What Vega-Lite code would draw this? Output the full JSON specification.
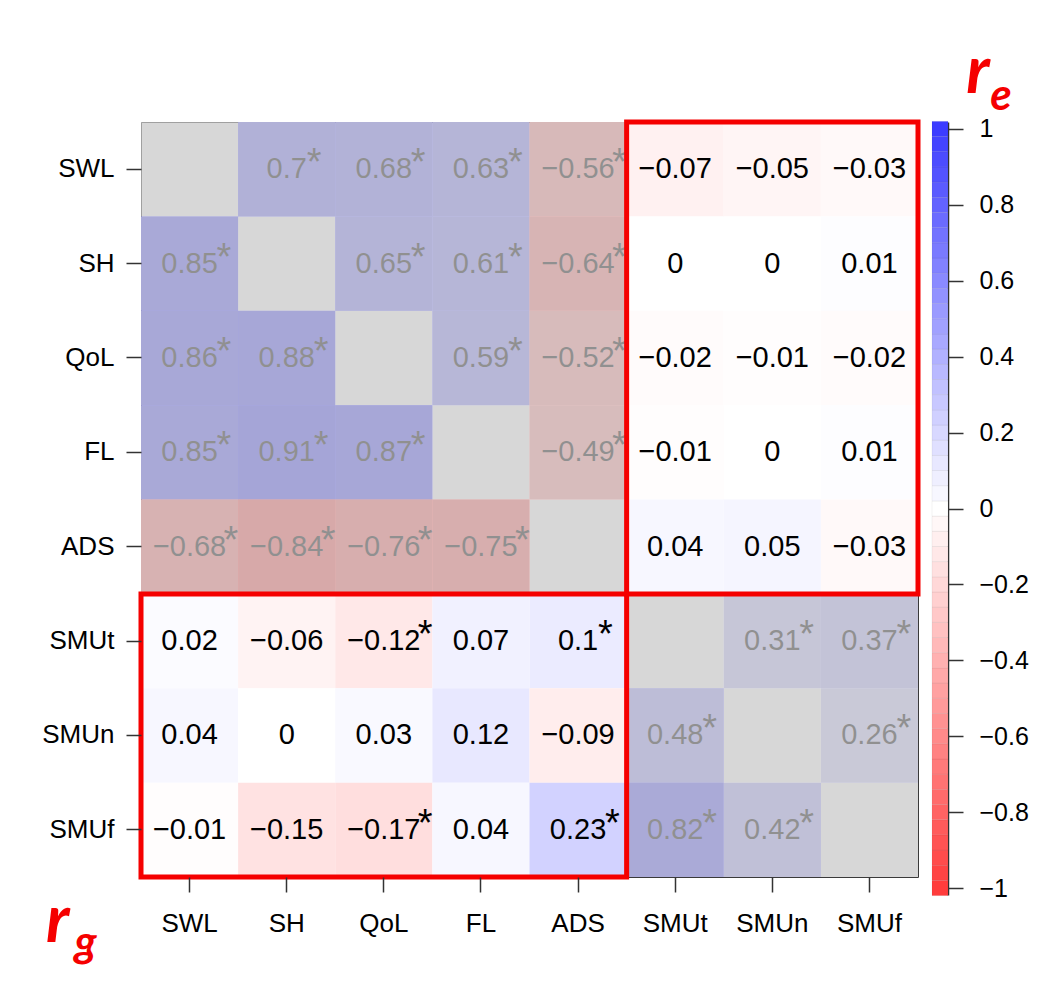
{
  "$schema": "https://vega.github.io/schema/vega-lite/v6.json",
  "background": "white",
  "padding": {"left": 41, "top": 39, "right": 5, "bottom": 5},
  "datasets": {
    "cells": [
      {"row": "SWL", "col": "SWL", "r": null, "lab": "", "sig": false, "grp": "w"},
      {"row": "SWL", "col": "SH", "r": 0.7, "lab": "0.7", "sig": true, "grp": "w"},
      {"row": "SWL", "col": "QoL", "r": 0.68, "lab": "0.68", "sig": true, "grp": "w"},
      {"row": "SWL", "col": "FL", "r": 0.63, "lab": "0.63", "sig": true, "grp": "w"},
      {"row": "SWL", "col": "ADS", "r": -0.56, "lab": "−0.56", "sig": true, "grp": "w"},
      {"row": "SWL", "col": "SMUt", "r": -0.07, "lab": "−0.07", "sig": false, "grp": "b"},
      {"row": "SWL", "col": "SMUn", "r": -0.05, "lab": "−0.05", "sig": false, "grp": "b"},
      {"row": "SWL", "col": "SMUf", "r": -0.03, "lab": "−0.03", "sig": false, "grp": "b"},
      {"row": "SH", "col": "SWL", "r": 0.85, "lab": "0.85", "sig": true, "grp": "w"},
      {"row": "SH", "col": "SH", "r": null, "lab": "", "sig": false, "grp": "w"},
      {"row": "SH", "col": "QoL", "r": 0.65, "lab": "0.65", "sig": true, "grp": "w"},
      {"row": "SH", "col": "FL", "r": 0.61, "lab": "0.61", "sig": true, "grp": "w"},
      {"row": "SH", "col": "ADS", "r": -0.64, "lab": "−0.64", "sig": true, "grp": "w"},
      {"row": "SH", "col": "SMUt", "r": 0, "lab": "0", "sig": false, "grp": "b"},
      {"row": "SH", "col": "SMUn", "r": 0, "lab": "0", "sig": false, "grp": "b"},
      {"row": "SH", "col": "SMUf", "r": 0.01, "lab": "0.01", "sig": false, "grp": "b"},
      {"row": "QoL", "col": "SWL", "r": 0.86, "lab": "0.86", "sig": true, "grp": "w"},
      {"row": "QoL", "col": "SH", "r": 0.88, "lab": "0.88", "sig": true, "grp": "w"},
      {"row": "QoL", "col": "QoL", "r": null, "lab": "", "sig": false, "grp": "w"},
      {"row": "QoL", "col": "FL", "r": 0.59, "lab": "0.59", "sig": true, "grp": "w"},
      {"row": "QoL", "col": "ADS", "r": -0.52, "lab": "−0.52", "sig": true, "grp": "w"},
      {"row": "QoL", "col": "SMUt", "r": -0.02, "lab": "−0.02", "sig": false, "grp": "b"},
      {"row": "QoL", "col": "SMUn", "r": -0.01, "lab": "−0.01", "sig": false, "grp": "b"},
      {"row": "QoL", "col": "SMUf", "r": -0.02, "lab": "−0.02", "sig": false, "grp": "b"},
      {"row": "FL", "col": "SWL", "r": 0.85, "lab": "0.85", "sig": true, "grp": "w"},
      {"row": "FL", "col": "SH", "r": 0.91, "lab": "0.91", "sig": true, "grp": "w"},
      {"row": "FL", "col": "QoL", "r": 0.87, "lab": "0.87", "sig": true, "grp": "w"},
      {"row": "FL", "col": "FL", "r": null, "lab": "", "sig": false, "grp": "w"},
      {"row": "FL", "col": "ADS", "r": -0.49, "lab": "−0.49", "sig": true, "grp": "w"},
      {"row": "FL", "col": "SMUt", "r": -0.01, "lab": "−0.01", "sig": false, "grp": "b"},
      {"row": "FL", "col": "SMUn", "r": 0, "lab": "0", "sig": false, "grp": "b"},
      {"row": "FL", "col": "SMUf", "r": 0.01, "lab": "0.01", "sig": false, "grp": "b"},
      {"row": "ADS", "col": "SWL", "r": -0.68, "lab": "−0.68", "sig": true, "grp": "w"},
      {"row": "ADS", "col": "SH", "r": -0.84, "lab": "−0.84", "sig": true, "grp": "w"},
      {"row": "ADS", "col": "QoL", "r": -0.76, "lab": "−0.76", "sig": true, "grp": "w"},
      {"row": "ADS", "col": "FL", "r": -0.75, "lab": "−0.75", "sig": true, "grp": "w"},
      {"row": "ADS", "col": "ADS", "r": null, "lab": "", "sig": false, "grp": "w"},
      {"row": "ADS", "col": "SMUt", "r": 0.04, "lab": "0.04", "sig": false, "grp": "b"},
      {"row": "ADS", "col": "SMUn", "r": 0.05, "lab": "0.05", "sig": false, "grp": "b"},
      {"row": "ADS", "col": "SMUf", "r": -0.03, "lab": "−0.03", "sig": false, "grp": "b"},
      {"row": "SMUt", "col": "SWL", "r": 0.02, "lab": "0.02", "sig": false, "grp": "b"},
      {"row": "SMUt", "col": "SH", "r": -0.06, "lab": "−0.06", "sig": false, "grp": "b"},
      {"row": "SMUt", "col": "QoL", "r": -0.12, "lab": "−0.12", "sig": true, "grp": "b"},
      {"row": "SMUt", "col": "FL", "r": 0.07, "lab": "0.07", "sig": false, "grp": "b"},
      {"row": "SMUt", "col": "ADS", "r": 0.1, "lab": "0.1", "sig": true, "grp": "b"},
      {"row": "SMUt", "col": "SMUt", "r": null, "lab": "", "sig": false, "grp": "w"},
      {"row": "SMUt", "col": "SMUn", "r": 0.31, "lab": "0.31", "sig": true, "grp": "w"},
      {"row": "SMUt", "col": "SMUf", "r": 0.37, "lab": "0.37", "sig": true, "grp": "w"},
      {"row": "SMUn", "col": "SWL", "r": 0.04, "lab": "0.04", "sig": false, "grp": "b"},
      {"row": "SMUn", "col": "SH", "r": 0, "lab": "0", "sig": false, "grp": "b"},
      {"row": "SMUn", "col": "QoL", "r": 0.03, "lab": "0.03", "sig": false, "grp": "b"},
      {"row": "SMUn", "col": "FL", "r": 0.12, "lab": "0.12", "sig": false, "grp": "b"},
      {"row": "SMUn", "col": "ADS", "r": -0.09, "lab": "−0.09", "sig": false, "grp": "b"},
      {"row": "SMUn", "col": "SMUt", "r": 0.48, "lab": "0.48", "sig": true, "grp": "w"},
      {"row": "SMUn", "col": "SMUn", "r": null, "lab": "", "sig": false, "grp": "w"},
      {"row": "SMUn", "col": "SMUf", "r": 0.26, "lab": "0.26", "sig": true, "grp": "w"},
      {"row": "SMUf", "col": "SWL", "r": -0.01, "lab": "−0.01", "sig": false, "grp": "b"},
      {"row": "SMUf", "col": "SH", "r": -0.15, "lab": "−0.15", "sig": false, "grp": "b"},
      {"row": "SMUf", "col": "QoL", "r": -0.17, "lab": "−0.17", "sig": true, "grp": "b"},
      {"row": "SMUf", "col": "FL", "r": 0.04, "lab": "0.04", "sig": false, "grp": "b"},
      {"row": "SMUf", "col": "ADS", "r": 0.23, "lab": "0.23", "sig": true, "grp": "b"},
      {"row": "SMUf", "col": "SMUt", "r": 0.82, "lab": "0.82", "sig": true, "grp": "w"},
      {"row": "SMUf", "col": "SMUn", "r": 0.42, "lab": "0.42", "sig": true, "grp": "w"},
      {"row": "SMUf", "col": "SMUf", "r": null, "lab": "", "sig": false, "grp": "w"}
    ],
    "boxes": [
      {"x0": "SMUt", "x1": "SMUf", "y0": "SWL", "y1": "ADS"},
      {"x0": "SWL", "x1": "ADS", "y0": "SMUt", "y1": "SMUf"}
    ],
    "colorbar": [
      {"v": -1.0, "lo": -1.02, "hi": -0.98},
      {"v": -0.96, "lo": -0.98, "hi": -0.94},
      {"v": -0.92, "lo": -0.94, "hi": -0.90},
      {"v": -0.88, "lo": -0.90, "hi": -0.86},
      {"v": -0.84, "lo": -0.86, "hi": -0.82},
      {"v": -0.80, "lo": -0.82, "hi": -0.78},
      {"v": -0.76, "lo": -0.78, "hi": -0.74},
      {"v": -0.72, "lo": -0.74, "hi": -0.70},
      {"v": -0.68, "lo": -0.70, "hi": -0.66},
      {"v": -0.64, "lo": -0.66, "hi": -0.62},
      {"v": -0.60, "lo": -0.62, "hi": -0.58},
      {"v": -0.56, "lo": -0.58, "hi": -0.54},
      {"v": -0.52, "lo": -0.54, "hi": -0.50},
      {"v": -0.48, "lo": -0.50, "hi": -0.46},
      {"v": -0.44, "lo": -0.46, "hi": -0.42},
      {"v": -0.40, "lo": -0.42, "hi": -0.38},
      {"v": -0.36, "lo": -0.38, "hi": -0.34},
      {"v": -0.32, "lo": -0.34, "hi": -0.30},
      {"v": -0.28, "lo": -0.30, "hi": -0.26},
      {"v": -0.24, "lo": -0.26, "hi": -0.22},
      {"v": -0.20, "lo": -0.22, "hi": -0.18},
      {"v": -0.16, "lo": -0.18, "hi": -0.14},
      {"v": -0.12, "lo": -0.14, "hi": -0.10},
      {"v": -0.08, "lo": -0.10, "hi": -0.06},
      {"v": -0.04, "lo": -0.06, "hi": -0.02},
      {"v": 0.0, "lo": -0.02, "hi": 0.02},
      {"v": 0.04, "lo": 0.02, "hi": 0.06},
      {"v": 0.08, "lo": 0.06, "hi": 0.10},
      {"v": 0.12, "lo": 0.10, "hi": 0.14},
      {"v": 0.16, "lo": 0.14, "hi": 0.18},
      {"v": 0.20, "lo": 0.18, "hi": 0.22},
      {"v": 0.24, "lo": 0.22, "hi": 0.26},
      {"v": 0.28, "lo": 0.26, "hi": 0.30},
      {"v": 0.32, "lo": 0.30, "hi": 0.34},
      {"v": 0.36, "lo": 0.34, "hi": 0.38},
      {"v": 0.40, "lo": 0.38, "hi": 0.42},
      {"v": 0.44, "lo": 0.42, "hi": 0.46},
      {"v": 0.48, "lo": 0.46, "hi": 0.50},
      {"v": 0.52, "lo": 0.50, "hi": 0.54},
      {"v": 0.56, "lo": 0.54, "hi": 0.58},
      {"v": 0.60, "lo": 0.58, "hi": 0.62},
      {"v": 0.64, "lo": 0.62, "hi": 0.66},
      {"v": 0.68, "lo": 0.66, "hi": 0.70},
      {"v": 0.72, "lo": 0.70, "hi": 0.74},
      {"v": 0.76, "lo": 0.74, "hi": 0.78},
      {"v": 0.80, "lo": 0.78, "hi": 0.82},
      {"v": 0.84, "lo": 0.82, "hi": 0.86},
      {"v": 0.88, "lo": 0.86, "hi": 0.90},
      {"v": 0.92, "lo": 0.90, "hi": 0.94},
      {"v": 0.96, "lo": 0.94, "hi": 0.98},
      {"v": 1.0, "lo": 0.98, "hi": 1.02}
    ],
    "rg": [{"main": "r", "sub": "g"}],
    "re": [{"main": "r", "sub": "e"}]
  },
  "spacing": 10,
  "hconcat": [
    {
      "width": 777,
      "height": 755,
      "layer": [
        {
          "data": {"name": "cells"},
          "transform": [{"filter": "datum.r != null"}],
          "mark": {"type": "rect"},
          "encoding": {
            "x": {
              "field": "col", "type": "nominal", "title": null,
              "scale": {"domain": ["SWL", "SH", "QoL", "FL", "ADS", "SMUt", "SMUn", "SMUf"], "paddingInner": 0, "paddingOuter": 0},
              "axis": {"orient": "bottom", "labelAngle": 0, "labelPadding": 18, "tickSize": 15}
            },
            "y": {
              "field": "row", "type": "nominal", "title": null,
              "scale": {"domain": ["SWL", "SH", "QoL", "FL", "ADS", "SMUt", "SMUn", "SMUf"], "paddingInner": 0, "paddingOuter": 0},
              "axis": {"orient": "left", "labelPadding": 12, "tickSize": 15}
            },
            "color": {
              "field": "r", "type": "quantitative", "legend": null,
              "scale": {"domain": [-1, 0, 1], "range": ["#ff3c3c", "#ffffff", "#3c3cff"], "interpolate": "rgb"}
            }
          }
        },
        {
          "data": {"name": "cells"},
          "transform": [{"filter": "datum.lab != ''"}],
          "mark": {"type": "text", "font": "Liberation Sans", "fontSize": 29, "color": "#000000"},
          "encoding": {
            "x": {"field": "col", "type": "nominal", "title": null},
            "y": {"field": "row", "type": "nominal", "title": null},
            "text": {"field": "lab"}
          }
        },
        {
          "data": {"name": "cells"},
          "transform": [{"filter": "datum.sig && length(datum.lab) == 3"}],
          "mark": {"type": "text", "text": "*", "font": "Liberation Sans", "fontSize": 38, "align": "left", "baseline": "alphabetic", "dx": 20, "dy": 6, "color": "#000000"},
          "encoding": {
            "x": {"field": "col", "type": "nominal", "title": null},
            "y": {"field": "row", "type": "nominal", "title": null}
          }
        },
        {
          "data": {"name": "cells"},
          "transform": [{"filter": "datum.sig && length(datum.lab) == 4"}],
          "mark": {"type": "text", "text": "*", "font": "Liberation Sans", "fontSize": 38, "align": "left", "baseline": "alphabetic", "dx": 27, "dy": 6, "color": "#000000"},
          "encoding": {
            "x": {"field": "col", "type": "nominal", "title": null},
            "y": {"field": "row", "type": "nominal", "title": null}
          }
        },
        {
          "data": {"name": "cells"},
          "transform": [{"filter": "datum.sig && length(datum.lab) == 5"}],
          "mark": {"type": "text", "text": "*", "font": "Liberation Sans", "fontSize": 38, "align": "left", "baseline": "alphabetic", "dx": 34, "dy": 6, "color": "#000000"},
          "encoding": {
            "x": {"field": "col", "type": "nominal", "title": null},
            "y": {"field": "row", "type": "nominal", "title": null}
          }
        },
        {
          "data": {"name": "cells"},
          "transform": [{"filter": "datum.grp == 'w'"}],
          "mark": {"type": "rect", "fill": "#c8c8c8", "opacity": 0.72},
          "encoding": {
            "x": {"field": "col", "type": "nominal", "title": null},
            "y": {"field": "row", "type": "nominal", "title": null}
          }
        },
        {
          "data": {"name": "boxes"},
          "mark": {"type": "rect", "fill": null, "stroke": "#f50000", "strokeWidth": 5},
          "encoding": {
            "x": {"field": "x0", "type": "nominal", "title": null, "bandPosition": 0},
            "x2": {"field": "x1", "bandPosition": 1},
            "y": {"field": "y0", "type": "nominal", "title": null, "bandPosition": 0},
            "y2": {"field": "y1", "bandPosition": 1}
          }
        },
        {
          "data": {"name": "rg"},
          "mark": {"type": "text", "font": "Lato", "fontWeight": "bold", "fontStyle": "italic", "fontSize": 66, "color": "#f50000", "align": "center", "baseline": "alphabetic", "dx": -132, "dy": 112},
          "encoding": {
            "x": {"datum": "SWL", "type": "nominal"},
            "y": {"datum": "SMUf", "type": "nominal"},
            "text": {"field": "main"}
          }
        },
        {
          "data": {"name": "rg"},
          "mark": {"type": "text", "font": "Lato", "fontWeight": "bold", "fontStyle": "italic", "fontSize": 44, "color": "#f50000", "align": "center", "baseline": "alphabetic", "dx": -104, "dy": 127},
          "encoding": {
            "x": {"datum": "SWL", "type": "nominal"},
            "y": {"datum": "SMUf", "type": "nominal"},
            "text": {"field": "sub"}
          }
        }
      ]
    },
    {
      "width": 16,
      "height": 773,
      "view": {"stroke": null},
      "layer": [
        {
          "data": {"name": "colorbar"},
          "mark": {"type": "rect", "stroke": "#000000", "strokeOpacity": 0.05, "strokeWidth": 1},
          "encoding": {
            "x": {"value": 0},
            "x2": {"value": "width"},
            "y": {
              "field": "lo", "type": "quantitative", "title": null,
              "scale": {"domain": [-1.0184, 1.0184], "nice": false, "zero": false},
              "axis": {"orient": "right", "values": [1, 0.8, 0.6, 0.4, 0.2, 0, -0.2, -0.4, -0.6, -0.8, -1], "format": "~g", "domain": true, "domainColor": "#333333", "domainWidth": 1.5, "tickSize": 15, "labelPadding": 16, "labelFontSize": 25, "grid": false}
            },
            "y2": {"field": "hi"},
            "color": {
              "field": "v", "type": "quantitative", "legend": null,
              "scale": {"domain": [-1, 0, 1], "range": ["#ff3c3c", "#ffffff", "#3c3cff"], "interpolate": "rgb"}
            }
          }
        },
        {
          "data": {"name": "re"},
          "mark": {"type": "text", "font": "Lato", "fontWeight": "bold", "fontStyle": "italic", "fontSize": 66, "color": "#f50000", "align": "center", "baseline": "alphabetic", "dx": 38, "dy": -36},
          "encoding": {
            "y": {"datum": 1, "type": "quantitative"},
            "text": {"field": "main"}
          }
        },
        {
          "data": {"name": "re"},
          "mark": {"type": "text", "font": "Lato", "fontWeight": "bold", "fontStyle": "italic", "fontSize": 44, "color": "#f50000", "align": "center", "baseline": "alphabetic", "dx": 61, "dy": -19},
          "encoding": {
            "y": {"datum": 1, "type": "quantitative"},
            "text": {"field": "sub"}
          }
        }
      ]
    }
  ],
  "config": {
    "view": {"stroke": "#3a3a3a", "strokeWidth": 1},
    "axis": {
      "labelFont": "Liberation Sans",
      "labelFontSize": 26,
      "labelColor": "#000000",
      "tickColor": "#333333",
      "tickWidth": 1.5,
      "domain": false,
      "grid": false
    }
  }
}
